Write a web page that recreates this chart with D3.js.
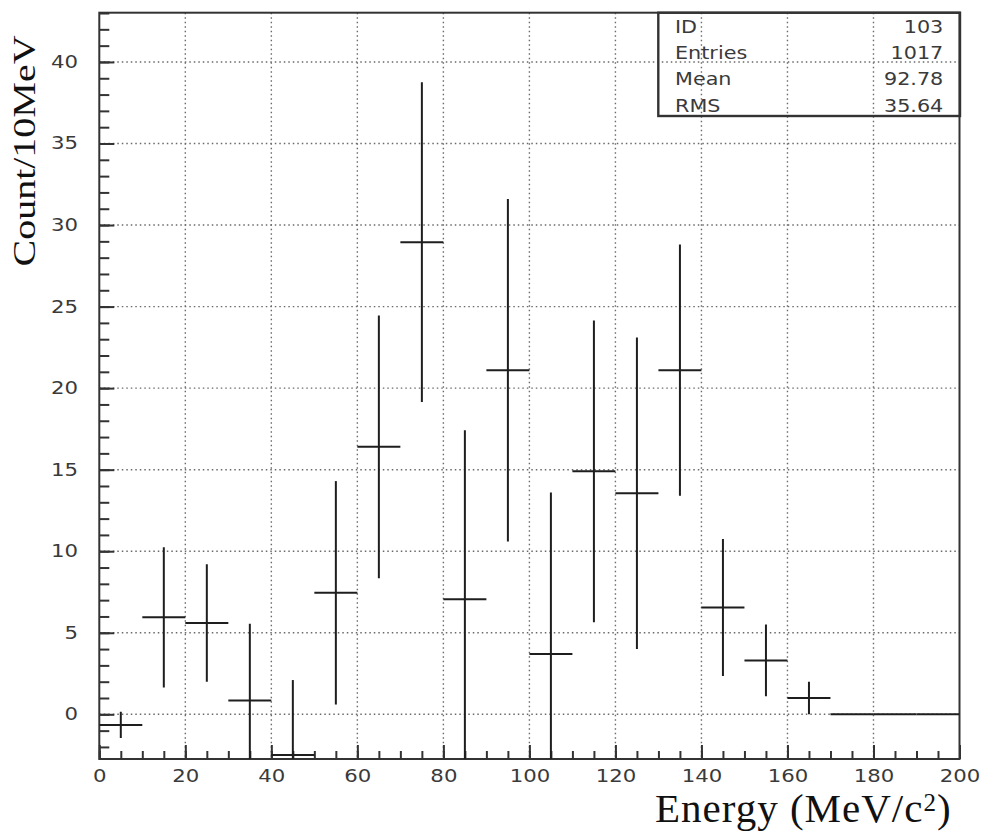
<!DOCTYPE html>
<html>
<head>
<meta charset="utf-8">
<script src="https://cdn.jsdelivr.net/npm/d3@7"></script>
<style>
  html, body { margin: 0; padding: 0; background: #fff; }
  svg { display: block; }
  .lbl { font-family: "DejaVu Sans", sans-serif; font-size: 17px; fill: #3a3a3a; }
  .title { font-family: "Liberation Serif", "Times New Roman", serif; fill: #111; }
</style>
</head>
<body>
<svg id="chart" width="983" height="836"></svg>
<script>
// Histogram 103: background-subtracted energy spectrum, 10 MeV bins
const binCenters = [5, 15, 25, 35, 45, 55, 65, 75, 85, 95, 105, 115, 125, 135, 145, 155, 165, 175, 185, 195];
const binWidth = 10;
const counts = [-0.65, 5.95, 5.6, 0.85, -2.5, 7.45, 16.4, 28.95, 7.06, 21.1, 3.7, 14.9, 13.55, 21.1, 6.55, 3.3, 1.0, 0, 0, 0];
const errors = [0.8, 4.3, 3.6, 4.7, 4.6, 6.85, 8.05, 9.8, 10.35, 10.5, 9.9, 9.25, 9.55, 7.7, 4.2, 2.2, 1.0, 0, 0, 0];

const xMajorTicks = [0, 20, 40, 60, 80, 100, 120, 140, 160, 180, 200];
const xMinorTicks = d3.range(0, 201, 5);
const yMajorTicks = [0, 5, 10, 15, 20, 25, 30, 35, 40];
const yMinorTicks = d3.range(-2, 44, 1);

const statsLabels = ["ID", "Entries", "Mean", "RMS"];
const statsValues = ["103", "1017", "92.78", "35.64"];

const xTitle = "Energy (MeV/c";
const xTitleSup = "2";
const yTitle = "Count/10MeV";

const svg = d3.select("#chart");
const plotL = 99.3, plotR = 959.5, plotT = 12.7, plotB = 759;

const x = d3.scaleLinear().domain([0, 200]).range([plotL, plotR]);
const y = d3.scaleLinear().domain([-2.74, 43.02]).range([plotB, plotT]);

// dotted grid at major ticks
const grid = svg.append("g").attr("stroke", "#6a6a6a").attr("stroke-width", 1.4)
  .attr("stroke-dasharray", "1.5,3");
grid.selectAll("line.gx").data(xMajorTicks.filter(d => d > 0 && d < 200)).join("line")
  .attr("x1", d => x(d)).attr("x2", d => x(d)).attr("y1", plotT).attr("y2", plotB);
grid.selectAll("line.gy").data(yMajorTicks).join("line")
  .attr("y1", d => y(d)).attr("y2", d => y(d)).attr("x1", plotL).attr("x2", plotR);

// axes with inward ticks
const noLabel = () => "";
svg.append("g").attr("transform", `translate(0,${plotB})`)
  .call(d3.axisBottom(x).tickValues(xMinorTicks).tickSize(-8).tickFormat(noLabel));
const xAx = svg.append("g").attr("transform", `translate(0,${plotB})`)
  .call(d3.axisBottom(x).tickValues(xMajorTicks).tickSize(-14).tickPadding(11).tickFormat(d3.format("d")));
svg.append("g").attr("transform", `translate(${plotL},0)`)
  .call(d3.axisLeft(y).tickValues(yMinorTicks).tickSize(-10).tickFormat(noLabel));
const yAx = svg.append("g").attr("transform", `translate(${plotL},0)`)
  .call(d3.axisLeft(y).tickValues(yMajorTicks).tickSize(-15).tickPadding(17).tickFormat(d3.format("d")));

svg.selectAll(".domain").remove();
svg.selectAll(".tick line").attr("stroke", "#333").attr("stroke-width", 2);
[xAx, yAx].forEach(g => g.selectAll(".tick text")
  .attr("class", "lbl").attr("font-family", null).attr("font-size", null).attr("fill", null)
  .attr("transform", "scale(1.25,1)"));

// frame
svg.append("rect").attr("x", plotL).attr("y", plotT)
  .attr("width", plotR - plotL).attr("height", plotB - plotT)
  .attr("fill", "none").attr("stroke", "#333").attr("stroke-width", 2);

// histogram with error bars, clipped to the frame
svg.append("clipPath").attr("id", "plotclip").append("rect")
  .attr("x", plotL).attr("y", plotT).attr("width", plotR - plotL).attr("height", plotB - plotT);
const bins = binCenters.map((c, i) => ({ c, v: counts[i], e: errors[i] }));
const marks = svg.append("g").attr("clip-path", "url(#plotclip)")
  .attr("stroke", "#1e1e1e").attr("stroke-width", 2);
marks.selectAll("line.h").data(bins).join("line").attr("class", "h")
  .attr("x1", d => x(d.c - binWidth / 2)).attr("x2", d => x(d.c + binWidth / 2))
  .attr("y1", d => y(d.v)).attr("y2", d => y(d.v));
marks.selectAll("line.v").data(bins.filter(d => d.e > 0)).join("line").attr("class", "v")
  .attr("x1", d => x(d.c)).attr("x2", d => x(d.c))
  .attr("y1", d => y(d.v - d.e)).attr("y2", d => y(d.v + d.e));

// statistics box
const sb = svg.append("g");
sb.append("rect").attr("x", 658.3).attr("y", plotT).attr("width", 960 - 658.3).attr("height", 116 - plotT)
  .attr("fill", "none").attr("stroke", "#333").attr("stroke-width", 2.4);
sb.selectAll("text.k").data(statsLabels).join("text").attr("class", "lbl k")
  .attr("transform", (d, i) => `translate(675,${32.7 + i * 26.3}) scale(1.22,1)`)
  .text(d => d);
sb.selectAll("text.v").data(statsValues).join("text").attr("class", "lbl v")
  .attr("text-anchor", "end")
  .attr("transform", (d, i) => `translate(943.3,${32.7 + i * 26.3}) scale(1.22,1)`)
  .text(d => d);

// axis titles
const xt = svg.append("text").attr("class", "title").attr("x", 655).attr("y", 822)
  .attr("font-size", 41).attr("letter-spacing", 1);
xt.append("tspan").text(xTitle);
xt.append("tspan").attr("font-size", 25).attr("dy", -11).text(xTitleSup);
xt.append("tspan").attr("dy", 11).text(")");

svg.append("text").attr("class", "title").attr("font-size", 40)
  .attr("text-anchor", "middle")
  .attr("transform", "translate(35,151) rotate(-90) scale(1,0.78)")
  .text(yTitle);
</script>
</body>
</html>
